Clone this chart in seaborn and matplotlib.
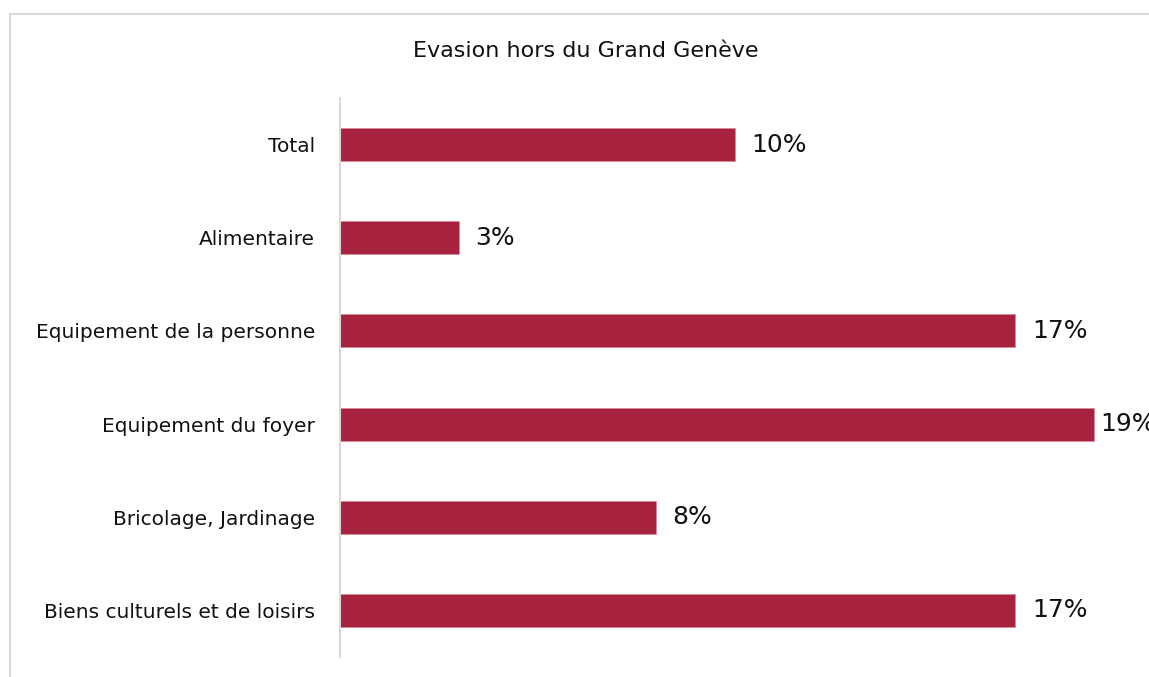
import pandas as pd
import matplotlib.pyplot as plt
import seaborn as sns
from matplotlib.lines import Line2D

categories = [
    "Total",
    "Alimentaire",
    "Equipement de la personne",
    "Equipement du foyer",
    "Bricolage, Jardinage",
    "Biens culturels et de loisirs",
]
values = [10.0, 3.0, 17.1, 19.1, 8.0, 17.1]
labels = ["10%", "3%", "17%", "19%", "8%", "17%"]

BAR_COLOR = "#A6223F"
GRID_GREY = "#d9d9d9"


def main():
    sns.set_style("white")
    plt.rcParams["font.family"] = ["DejaVu Sans"]

    data = pd.DataFrame({"category": categories, "value": values})

    fig = plt.figure(figsize=(11.49, 6.77), dpi=100)
    ax = fig.add_axes([340 / 1149, 1 - 657 / 677, 809 / 1149, 559 / 677])

    sns.barplot(data=data, x="value", y="category", orient="h",
                color=BAR_COLOR, width=0.355, saturation=1,
                edgecolor="#d98a9a", linewidth=0.6, ax=ax)

    # labels sit right of the bar, but are squeezed in near the right edge
    for i, (v, lab) in enumerate(zip(values, labels)):
        ax.text(min(v + 0.42, 19.24), i, lab, va="center", ha="left",
                fontsize=18, color="#111111", clip_on=False)

    ax.set_xlim(0, 809 / 39.5)
    ax.set_ylim(5.5, -0.5)
    ax.set_xlabel("")
    ax.set_ylabel("")
    ax.set_xticks([])
    ax.tick_params(axis="y", length=0, pad=18, labelsize=14.5, labelcolor="#111111")
    for side in ["top", "right", "bottom"]:
        ax.spines[side].set_visible(False)
    ax.spines["left"].set_color(GRID_GREY)
    ax.spines["left"].set_linewidth(1.5)

    fig.text(586 / 1149, 1 - 51 / 677, "Evasion hors du Grand Genève",
             ha="center", va="center", fontsize=16, color="#111111")

    # outer chart frame (top and left edges visible)
    fig.add_artist(Line2D([10 / 1149, 10 / 1149], [0, 1 - 14 / 677],
                          color=GRID_GREY, lw=1.5, transform=fig.transFigure))
    fig.add_artist(Line2D([10 / 1149, 1], [1 - 14 / 677, 1 - 14 / 677],
                          color=GRID_GREY, lw=1.5, transform=fig.transFigure))

    fig.savefig("out.png", dpi=100)


if __name__ == "__main__":
    main()
